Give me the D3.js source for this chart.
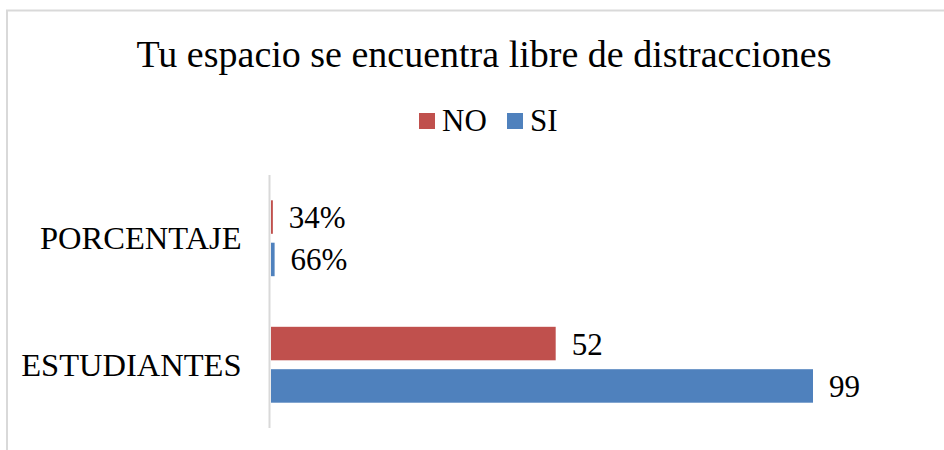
<!DOCTYPE html>
<html>
<head>
<meta charset="utf-8">
<script src="https://cdn.jsdelivr.net/npm/d3@7"></script>
<style>
  body { margin: 0; background: #fff; }
  svg text { font-family: 'Liberation Serif', serif; fill: #000; }
</style>
</head>
<body>
<svg id="chart" width="944" height="450"></svg>
<script>
// data
const categories = ["PORCENTAJE", "ESTUDIANTES"];
const seriesNames = ["NO", "SI"];
const valuesNO = [0.34, 52];
const valuesSI = [0.66, 99];
const labelsNO = ["34%", "52"];
const labelsSI = ["66%", "99"];
const colors = { NO: "#c0504d", SI: "#4f81bd" };
const serif = "'Liberation Serif', serif";

const svg = d3.select("#chart");

// chart frame (runs off the right and bottom edge)
svg.append("rect")
  .attr("x", 7).attr("y", 10.5)
  .attr("width", 960).attr("height", 460)
  .attr("fill", "#fff")
  .attr("stroke", "#d9d9d9")
  .attr("stroke-width", 2);

svg.append("text")
  .attr("x", 484).attr("y", 67)
  .attr("text-anchor", "middle")
  .attr("font-family", serif)
  .style("font-size", "38px")
  .text("Tu espacio se encuentra libre de distracciones");

// legend
const legend = svg.append("g");
const legendItems = [
  { name: "NO", sx: 419, tx: 442 },
  { name: "SI", sx: 507, tx: 530 }
];
legend.selectAll("rect").data(legendItems).join("rect")
  .attr("x", d => d.sx).attr("y", 113)
  .attr("width", 16).attr("height", 16)
  .attr("fill", d => colors[d.name]);
legend.selectAll("text").data(legendItems).join("text")
  .attr("x", d => d.tx).attr("y", 131)
  .attr("font-family", serif)
  .style("font-size", "31px")
  .text(d => d.name);

// scales
const x = d3.scaleLinear().domain([0, 99]).range([271, 813]);
const y0 = d3.scaleBand().domain(categories).range([175, 428])
  .paddingInner(0.4).paddingOuter(0.2);
const y1 = d3.scaleBand().domain(seriesNames).range([0, y0.bandwidth()])
  .paddingInner(0.21);

const rows = categories.map((c, i) => ({
  cat: c,
  bars: [
    { s: "NO", v: valuesNO[i], label: labelsNO[i] },
    { s: "SI", v: valuesSI[i], label: labelsSI[i] }
  ]
}));

const groups = svg.selectAll("g.cat").data(rows).join("g")
  .attr("class", "cat")
  .attr("transform", d => `translate(0,${y0(d.cat)})`);

groups.selectAll("rect").data(d => d.bars).join("rect")
  .attr("x", x(0))
  .attr("y", d => y1(d.s))
  .attr("width", d => Math.max(x(d.v) - x(0), 0))
  .attr("height", y1.bandwidth())
  .attr("fill", d => colors[d.s]);

groups.selectAll("text.val").data(d => d.bars).join("text")
  .attr("class", "val")
  .attr("x", d => x(d.v) + 16)
  .attr("y", d => y1(d.s) + y1.bandwidth() / 2 + 11)
  .attr("font-family", serif)
  .style("font-size", "31px")
  .text(d => d.label);

// category axis
const yAxis = svg.append("g")
  .attr("transform", `translate(${x(0) - 1.5},0)`)
  .call(d3.axisLeft(y0).tickSize(0).tickPadding(28))
  .attr("font-family", serif);
yAxis.select(".domain").attr("stroke", "#d9d9d9").attr("stroke-width", 2)
  .attr("d", "M0,175V428");
yAxis.selectAll("text")
  .attr("dy", null)
  .attr("y", 11)
  .attr("font-family", serif)
  .style("font-size", "32.5px")
  .attr("fill", "#000");
</script>
</body>
</html>
